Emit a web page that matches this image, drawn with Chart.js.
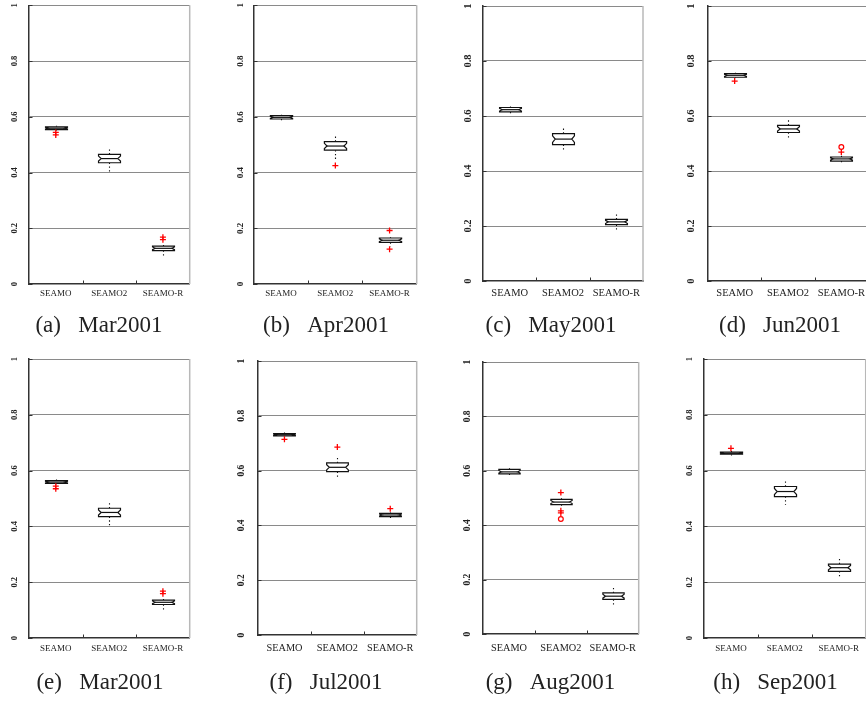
<!DOCTYPE html>
<html><head><meta charset="utf-8">
<script src="https://cdn.jsdelivr.net/npm/chart.js@4.4.1/dist/chart.umd.min.js"></script>
<style>
html,body{margin:0;padding:0;background:#fff;overflow:hidden;width:866px;height:702px;}
canvas{position:absolute;}
</style></head><body>
<script>
// ---------------- data ----------------
const categories = ['SEAMO', 'SEAMO2', 'SEAMO-R'];
const panelCaptions = ['(a)\u2002 Mar2001', '(b)\u2002 Apr2001', '(c)\u2002 May2001', '(d)\u2002 Jun2001',
                       '(e)\u2002 Mar2001', '(f)\u2002 Jul2001', '(g)\u2002 Aug2001', '(h)\u2002 Sep2001'];
const yTickValues = [0, 0.2, 0.4, 0.6, 0.8, 1];
const yTickLabels = ['0', '0.2', '0.4', '0.6', '0.8', '1'];

// one row per panel (a..h), one value per category
const whiskerLow = [
  [0.551, 0.396, 0.101],
  [0.582, 0.447, 0.135],
  [0.605, 0.469, 0.187],
  [0.739, 0.518, 0.432],
  [0.551, 0.396, 0.101],
  [0.725, 0.577, 0.422],
  [0.580, 0.471, 0.102],
  [0.653, 0.478, 0.220]
];
const quartile1 = [
  [0.554, 0.435, 0.120],
  [0.592, 0.480, 0.149],
  [0.615, 0.496, 0.205],
  [0.741, 0.540, 0.436],
  [0.554, 0.435, 0.120],
  [0.727, 0.596, 0.432],
  [0.589, 0.476, 0.127],
  [0.659, 0.507, 0.239]
];
const median = [
  [0.559, 0.450, 0.128],
  [0.598, 0.495, 0.157],
  [0.623, 0.516, 0.215],
  [0.748, 0.553, 0.444],
  [0.559, 0.450, 0.128],
  [0.731, 0.612, 0.438],
  [0.596, 0.485, 0.139],
  [0.662, 0.525, 0.252]
];
const quartile3 = [
  [0.564, 0.465, 0.136],
  [0.604, 0.511, 0.165],
  [0.631, 0.536, 0.224],
  [0.754, 0.566, 0.451],
  [0.564, 0.465, 0.136],
  [0.735, 0.628, 0.444],
  [0.605, 0.495, 0.151],
  [0.666, 0.543, 0.265]
];
const whiskerHigh = [
  [0.568, 0.486, 0.140],
  [0.607, 0.533, 0.168],
  [0.635, 0.558, 0.245],
  [0.757, 0.593, 0.456],
  [0.568, 0.486, 0.140],
  [0.739, 0.652, 0.447],
  [0.609, 0.499, 0.173],
  [0.670, 0.564, 0.287]
];
const outlierPlus = [
  [[0.544, 0.535], [], [0.168, 0.159]],
  [[], [0.425], [0.192, 0.125]],
  [[], [], []],
  [[0.727], [], [0.469]],
  [[0.544, 0.535], [], [0.168, 0.159]],
  [[0.714], [0.686], [0.461]],
  [[], [0.520, 0.453, 0.445], []],
  [[0.680], [], []]
];
const outlierCircle = [
  [[], [], []],
  [[], [], []],
  [[], [], []],
  [[], [], [0.487]],
  [[], [], []],
  [[], [], []],
  [[], [0.423], []],
  [[], [], []]
];

// ---------------- layout (positions / sizes / styles) ----------------
const panelLayout = [
  {L:29,  R:193, T:5,   B:284, C:99,    row:0, tick:8.5,  cat:9,    labY:294, yOff:14},
  {L:254, R:419, T:5,   B:284, C:326,   row:0, tick:9,    cat:9,    labY:294, yOff:13.6},
  {L:483, R:643, T:6,   B:281, C:551,   row:0, tick:10.5, cat:10.5, labY:293, yOff:14.7},
  {L:708, R:868, T:6,   B:281, C:780,   row:0, tick:10.5, cat:10.5, labY:293, yOff:16.3},
  {L:29,  R:193, T:359, B:638, C:100,   row:1, tick:8.5,  cat:9,    labY:649, yOff:14},
  {L:258, R:419, T:361, B:635, C:325.6, row:1, tick:9.5,  cat:10.3, labY:648, yOff:16},
  {L:483, R:642, T:362, B:634, C:550.5, row:1, tick:9.5,  cat:10.3, labY:648, yOff:15},
  {L:704, R:867, T:359, B:638, C:775.5, row:1, tick:8.5,  cat:9,    labY:649, yOff:14}
];
const rowTop = [0, 345], rowHeight = [345, 357], captionY = [326, 683];
const SERIF = "'Liberation Serif', 'Times New Roman', serif";
const CAPTION_SIZE = 23;

const boxPlotPlugin = {
  id: 'boxPlot',
  beforeDatasetsDraw(chart, args, opts) {
    const p = opts.panel;
    const xs = chart.scales.x, ys = chart.scales.y, ctx = chart.ctx;
    const step = xs.getPixelForValue(1) - xs.getPixelForValue(0);
    const hw = step * 0.205, inset = hw * 0.24;
    ctx.save();
    ctx.strokeStyle = '#111';
    categories.forEach((c, i) => {
      const cx = Math.round(xs.getPixelForValue(i)) + 0.5;
      const lo = ys.getPixelForValue(whiskerLow[p][i]);
      const a = ys.getPixelForValue(quartile1[p][i]);
      const m = ys.getPixelForValue(median[p][i]);
      const b = ys.getPixelForValue(quartile3[p][i]);
      const hi = ys.getPixelForValue(whiskerHigh[p][i]);
      ctx.lineWidth = 1.1;
      ctx.setLineDash([1.3, 2.4]);
      ctx.beginPath();
      ctx.moveTo(cx, b); ctx.lineTo(cx, hi);
      ctx.moveTo(cx, a); ctx.lineTo(cx, lo);
      ctx.stroke();
      ctx.setLineDash([]);
      ctx.lineWidth = 1.2;
      const left = cx - hw, right = cx + hw;
      const nTop = m + (b - m) * 0.6, nBot = m + (a - m) * 0.6;
      ctx.beginPath();
      ctx.moveTo(left, b); ctx.lineTo(right, b); ctx.lineTo(right, nTop);
      ctx.lineTo(right - inset, m); ctx.lineTo(right, nBot); ctx.lineTo(right, a);
      ctx.lineTo(left, a); ctx.lineTo(left, nBot); ctx.lineTo(left + inset, m);
      ctx.lineTo(left, nTop); ctx.closePath();
      ctx.fillStyle = '#fff'; ctx.fill(); ctx.stroke();
      ctx.beginPath(); ctx.moveTo(left + inset, m); ctx.lineTo(right - inset, m); ctx.stroke();
    });
    ctx.restore();
  },
  afterDraw(chart) {
    const {left, right, top, bottom} = chart.chartArea;
    const xs = chart.scales.x, ys = chart.scales.y, ctx = chart.ctx;
    ctx.save();
    ctx.strokeStyle = '#b8b8b8'; ctx.lineWidth = 1.5;
    ctx.beginPath(); ctx.moveTo(right, top); ctx.lineTo(right, bottom); ctx.stroke();
    ctx.strokeStyle = '#333'; ctx.lineWidth = 1;
    ctx.beginPath();
    yTickValues.forEach(v => {
      const y = Math.round(ys.getPixelForValue(v)) + 0.5;
      ctx.moveTo(left, y); ctx.lineTo(left + 3.5, y);
    });
    for (let i = 0; i < categories.length - 1; i++) {
      const x = Math.round((xs.getPixelForValue(i) + xs.getPixelForValue(i + 1)) / 2) + 0.5;
      ctx.moveTo(x, bottom); ctx.lineTo(x, bottom - 3.5);
    }
    ctx.stroke();
    ctx.restore();
  }
};

panelLayout.forEach((lay, p) => {
  const CT = rowTop[lay.row], CH = rowHeight[lay.row];
  const CL = Math.floor(Math.min(2 * lay.C - lay.R, lay.L - (lay.yOff + 8)));
  const spacer = Math.max(0, 2 * lay.C - CL - lay.R);
  const padR = 2;
  const CW = Math.ceil(lay.R - CL + spacer + padR);
  const pt = lay.T - CT;
  const titleLH = CAPTION_SIZE * 1.2;
  const pb = CT + CH - captionY[lay.row] - titleLH / 2;
  const titleH = titleLH + pb;
  const xh = CH - titleH - (lay.B - CT);
  const yw = lay.L - CL;
  const xPad = lay.labY - lay.B - lay.cat * 0.6;
  const yPad = lay.yOff - lay.tick * 0.625;

  const cv = document.createElement('canvas');
  cv.width = CW; cv.height = CH;
  cv.style.left = CL + 'px'; cv.style.top = CT + 'px';
  cv.style.width = CW + 'px'; cv.style.height = CH + 'px';
  document.body.appendChild(cv);

  const plusData = [], circleData = [];
  categories.forEach((c, i) => {
    outlierPlus[p][i].forEach(v => plusData.push({x: c, y: v}));
    outlierCircle[p][i].forEach(v => circleData.push({x: c, y: v}));
  });

  const scales = {
    x: {
      type: 'category', labels: categories, offset: true, position: 'bottom',
      grid: {display: false, drawTicks: false},
      border: {display: true, color: '#333', width: 1.5},
      ticks: {autoSkip: false, maxRotation: 0, minRotation: 0, padding: xPad, color: '#222',
              font: {family: SERIF, size: lay.cat}},
      afterFit: s => { s.height = xh; s.paddingLeft = 0; s.paddingRight = 0; }
    },
    y: {
      type: 'linear', min: 0, max: 1, position: 'left',
      afterBuildTicks: s => { s.ticks = yTickValues.map(v => ({value: v})); },
      grid: {drawTicks: false, lineWidth: 1,
             color: c => (c.tick && c.tick.value === 0) ? 'rgba(0,0,0,0)' : '#8a8a8a'},
      border: {display: true, color: '#333', width: 1.5},
      ticks: {minRotation: 90, maxRotation: 90, crossAlign: 'center', autoSkip: false,
              padding: yPad, color: '#222',
              callback: (v) => yTickLabels[yTickValues.indexOf(v)],
              font: {family: SERIF, size: lay.tick, weight: 'bold'}},
      afterFit: s => { s.width = yw; s.paddingTop = 0; s.paddingBottom = 0; }
    }
  };
  if (spacer > 0) {
    scales.y2 = {
      type: 'linear', position: 'right', display: true,
      grid: {display: false, drawTicks: false}, border: {display: false},
      ticks: {display: false},
      afterFit: s => { s.width = spacer; s.paddingTop = 0; s.paddingBottom = 0; }
    };
  }

  new Chart(cv, {
    type: 'scatter',
    data: {
      labels: categories,
      datasets: [
        {data: plusData, pointStyle: 'cross', radius: 3, borderColor: '#ff0000',
         backgroundColor: '#ff0000', borderWidth: 1.3, xAxisID: 'x', yAxisID: 'y'},
        {data: circleData, pointStyle: 'circle', radius: 2.4, borderColor: '#ff0000',
         backgroundColor: 'rgba(0,0,0,0)', borderWidth: 1.2, xAxisID: 'x', yAxisID: 'y'}
      ]
    },
    options: {
      responsive: false, devicePixelRatio: 1, animation: false, events: [],
      layout: {padding: {left: 0, right: padR, top: pt, bottom: 0}},
      plugins: {
        legend: {display: false},
        tooltip: {enabled: false},
        title: {display: true, position: 'bottom', text: panelCaptions[p], color: '#222',
                font: {family: SERIF, size: CAPTION_SIZE, weight: 'normal', lineHeight: 1.2},
                padding: {top: 0, bottom: pb}},
        boxPlot: {panel: p}
      },
      scales: scales
    },
    plugins: [boxPlotPlugin]
  });
});
</script>
</body></html>
